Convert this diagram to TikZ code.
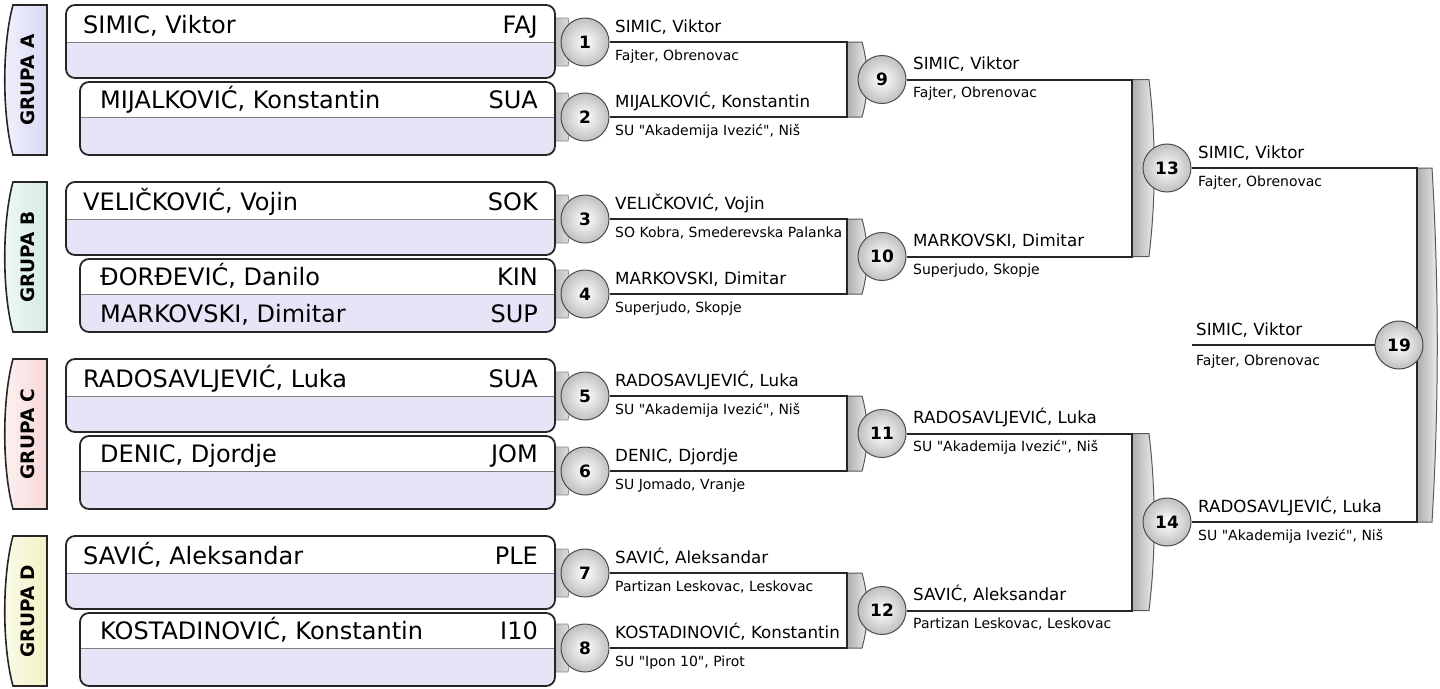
\documentclass[tikz,border=0pt]{standalone}
\usepackage{fontspec}
\setmainfont{DejaVu Sans}[Ligatures=TeXOff]
\definecolor{lav}{HTML}{E6E4F6}
\definecolor{tabA}{HTML}{D8D8F4}
\definecolor{tabB}{HTML}{D4ECE2}
\definecolor{tabC}{HTML}{F8D8D8}
\definecolor{tabD}{HTML}{F2F2C4}
\tikzset{
  wire/.style={draw=black!85, line width=2pt},
  boxline/.style={draw=black!85, line width=1.8pt, rounded corners=9pt},
  ball/.style={circle, minimum size=48pt, inner sep=0pt, draw=black!70, line width=1pt,
     inner color=white, outer color=black!25, font=\bfseries\fontsize{17}{17}\selectfont},
  pname/.style={anchor=base west, inner sep=0pt, font=\fontsize{24}{26}\selectfont},
  pcode/.style={anchor=base east, inner sep=0pt, font=\fontsize{24}{26}\selectfont},
  wname/.style={anchor=base west, inner sep=0pt, font=\fontsize{16.7}{18}\selectfont},
  wclub/.style={anchor=base west, inner sep=0pt, font=\fontsize{14}{16}\selectfont},
  grp/.style={rotate=90, inner sep=0pt, font=\bfseries\fontsize{18.5}{20}\selectfont},
  brk/.style={draw=black!65, line width=1pt, left color=black!32, right color=black!6},
  stub/.style={draw=black!45, line width=0.8pt, left color=black!28, right color=black!12},
}
\newcommand\PlayerBox[4]{%
  \begin{scope}
    \clip[rounded corners=9pt] (#1,#2) rectangle (555,{#2+#4});
    \fill[lav] (#1,#2) rectangle (555,{#2+#4});
    \fill[white] (#1,#2) rectangle (555,#3);
    \draw[black!50, line width=1pt] (#1,#3) -- (555,#3);
  \end{scope}
  \draw[boxline] (#1,#2) rectangle (555,{#2+#4});
}
\newcommand\GroupTab[4]{%
  \path[draw=black!85, line width=1.6pt, left color=#2!35!white, right color=#2]
    (13,#1) -- (47,#1) -- (47,{#1+150}) -- (13,{#1+150})
    .. controls (2,{#1+110}) and (2,{#1+40}) .. cycle;
  \node[grp] (#4) at (28,{#1+75}) {#3};
}
\newcommand\Stub[1]{%
  \path[stub] (553,{#1-24}) -- (568,{#1-24}) .. controls (571,{#1-8}) and (571,{#1+8}) .. (568,{#1+24}) -- (553,{#1+24}) -- cycle;
}
\newcommand\Bracket[4]{%
  \path[brk] (#1,#3) -- ({#1+#2},#3) .. controls ({#1+#2+7},{#3+(#4-#3)/3}) and ({#1+#2+7},{#4-(#4-#3)/3}) .. ({#1+#2},#4) -- (#1,#4) -- cycle;
}
\begin{document}
\begin{tikzpicture}[x=1pt,y=-1pt]
\useasboundingbox (0,0) rectangle (1440,688);

\GroupTab{5}{tabA}{GRUPA A}{gA}
\GroupTab{182}{tabB}{GRUPA B}{gB}
\GroupTab{359}{tabC}{GRUPA C}{gC}
\GroupTab{536}{tabD}{GRUPA D}{gD}

\Stub{42}\Stub{117}\Stub{219}\Stub{294}\Stub{396}\Stub{471}\Stub{573}\Stub{648}

\PlayerBox{66}{5}{42}{73}
\PlayerBox{80}{82}{117}{73}
\PlayerBox{66}{182}{219}{73}
\PlayerBox{80}{259}{294}{73}
\PlayerBox{66}{359}{396}{73}
\PlayerBox{80}{436}{471}{73}
\PlayerBox{66}{536}{573}{73}
\PlayerBox{80}{613}{648}{73}

\node[pname] (p1) at (83,33.5) {SIMIC, Viktor};
\node[pcode] (k1) at (538,33.5) {FAJ};
\node[pname] (p2) at (100,108) {MIJALKOVIĆ, Konstantin};
\node[pcode] (k2) at (538,108) {SUA};
\node[pname] (p3) at (83,210.5) {VELIČKOVIĆ, Vojin};
\node[pcode] (k3) at (538,210.5) {SOK};
\node[pname] (p4) at (100,285) {ĐORĐEVIĆ, Danilo};
\node[pcode] (k4) at (538,285) {KIN};
\node[pname] (p4b) at (100,322) {MARKOVSKI, Dimitar};
\node[pcode] (k4b) at (538,322) {SUP};
\node[pname] (p5) at (83,387.5) {RADOSAVLJEVIĆ, Luka};
\node[pcode] (k5) at (538,387.5) {SUA};
\node[pname] (p6) at (100,462) {DENIC, Djordje};
\node[pcode] (k6) at (538,462) {JOM};
\node[pname] (p7) at (83,564.5) {SAVIĆ, Aleksandar};
\node[pcode] (k7) at (538,564.5) {PLE};
\node[pname] (p8) at (100,639) {KOSTADINOVIĆ, Konstantin};
\node[pcode] (k8) at (538,639) {I10};

\Bracket{847}{15}{42}{117}
\Bracket{847}{15}{219}{294}
\Bracket{847}{15}{396}{471}
\Bracket{847}{15}{573}{648}
\Bracket{1132}{17}{79.5}{256.5}
\Bracket{1132}{17}{433.5}{610.5}
\Bracket{1417}{15}{168}{522}

\coordinate (c9a) at (847,42);   \coordinate (c9b) at (847,117);
\coordinate (c10a) at (847,219); \coordinate (c10b) at (847,294);
\coordinate (c11a) at (847,396); \coordinate (c11b) at (847,471);
\coordinate (c12a) at (847,573); \coordinate (c12b) at (847,648);
\coordinate (c13a) at (1132,79.5); \coordinate (c13b) at (1132,256.5);
\coordinate (c14a) at (1132,433.5); \coordinate (c14b) at (1132,610.5);
\coordinate (c19a) at (1417,168); \coordinate (c19b) at (1417,522);
\coordinate (f19) at (1192,345);

\node[ball] (m1) at (585,42) {1};
\node[ball] (m2) at (585,117) {2};
\node[ball] (m3) at (585,219) {3};
\node[ball] (m4) at (585,294) {4};
\node[ball] (m5) at (585,396) {5};
\node[ball] (m6) at (585,471) {6};
\node[ball] (m7) at (585,573) {7};
\node[ball] (m8) at (585,648) {8};

\draw[wire] (m1) -- (c9a) -- (c9b) -- (m2);
\draw[wire] (m3) -- (c10a) -- (c10b) -- (m4);
\draw[wire] (m5) -- (c11a) -- (c11b) -- (m6);
\draw[wire] (m7) -- (c12a) -- (c12b) -- (m8);

\node[ball] (m9) at (882,79.5) {9};
\node[ball] (m10) at (882,256.5) {10};
\node[ball] (m11) at (882,433.5) {11};
\node[ball] (m12) at (882,610.5) {12};

\draw[wire] (m9) -- (c13a) -- (c13b) -- (m10);
\draw[wire] (m11) -- (c14a) -- (c14b) -- (m12);

\node[ball] (m13) at (1167,168) {13};
\node[ball] (m14) at (1167,522) {14};

\draw[wire] (m13) -- (c19a) -- (c19b) -- (m14);

\node[ball] (m19) at (1399,345) {19};
\draw[wire] (f19) -- (m19);

\node[wname] (w1) at (615,32) {SIMIC, Viktor};
\node[wclub] (u1) at (615,60) {Fajter, Obrenovac};
\node[wname] (w2) at (615,107) {MIJALKOVIĆ, Konstantin};
\node[wclub] (u2) at (615,135) {SU "Akademija Ivezić", Niš};
\node[wname] (w3) at (615,209) {VELIČKOVIĆ, Vojin};
\node[wclub] (u3) at (615,237) {SO Kobra, Smederevska Palanka};
\node[wname] (w4) at (615,284) {MARKOVSKI, Dimitar};
\node[wclub] (u4) at (615,312) {Superjudo, Skopje};
\node[wname] (w5) at (615,386) {RADOSAVLJEVIĆ, Luka};
\node[wclub] (u5) at (615,414) {SU "Akademija Ivezić", Niš};
\node[wname] (w6) at (615,461) {DENIC, Djordje};
\node[wclub] (u6) at (615,489) {SU Jomado, Vranje};
\node[wname] (w7) at (615,563) {SAVIĆ, Aleksandar};
\node[wclub] (u7) at (615,591) {Partizan Leskovac, Leskovac};
\node[wname] (w8) at (615,638) {KOSTADINOVIĆ, Konstantin};
\node[wclub] (u8) at (615,666) {SU "Ipon 10", Pirot};
\node[wname] (w9) at (913,69.5) {SIMIC, Viktor};
\node[wclub] (u9) at (913,97.5) {Fajter, Obrenovac};
\node[wname] (w10) at (913,246.5) {MARKOVSKI, Dimitar};
\node[wclub] (u10) at (913,274.5) {Superjudo, Skopje};
\node[wname] (w11) at (913,423.5) {RADOSAVLJEVIĆ, Luka};
\node[wclub] (u11) at (913,451.5) {SU "Akademija Ivezić", Niš};
\node[wname] (w12) at (913,600.5) {SAVIĆ, Aleksandar};
\node[wclub] (u12) at (913,628.5) {Partizan Leskovac, Leskovac};
\node[wname] (w13) at (1198,158) {SIMIC, Viktor};
\node[wclub] (u13) at (1198,186) {Fajter, Obrenovac};
\node[wname] (w14) at (1198,512) {RADOSAVLJEVIĆ, Luka};
\node[wclub] (u14) at (1198,540) {SU "Akademija Ivezić", Niš};
\node[wname] (w19) at (1196,335) {SIMIC, Viktor};
\node[wclub] (u19) at (1196,365) {Fajter, Obrenovac};
\end{tikzpicture}
\end{document}
